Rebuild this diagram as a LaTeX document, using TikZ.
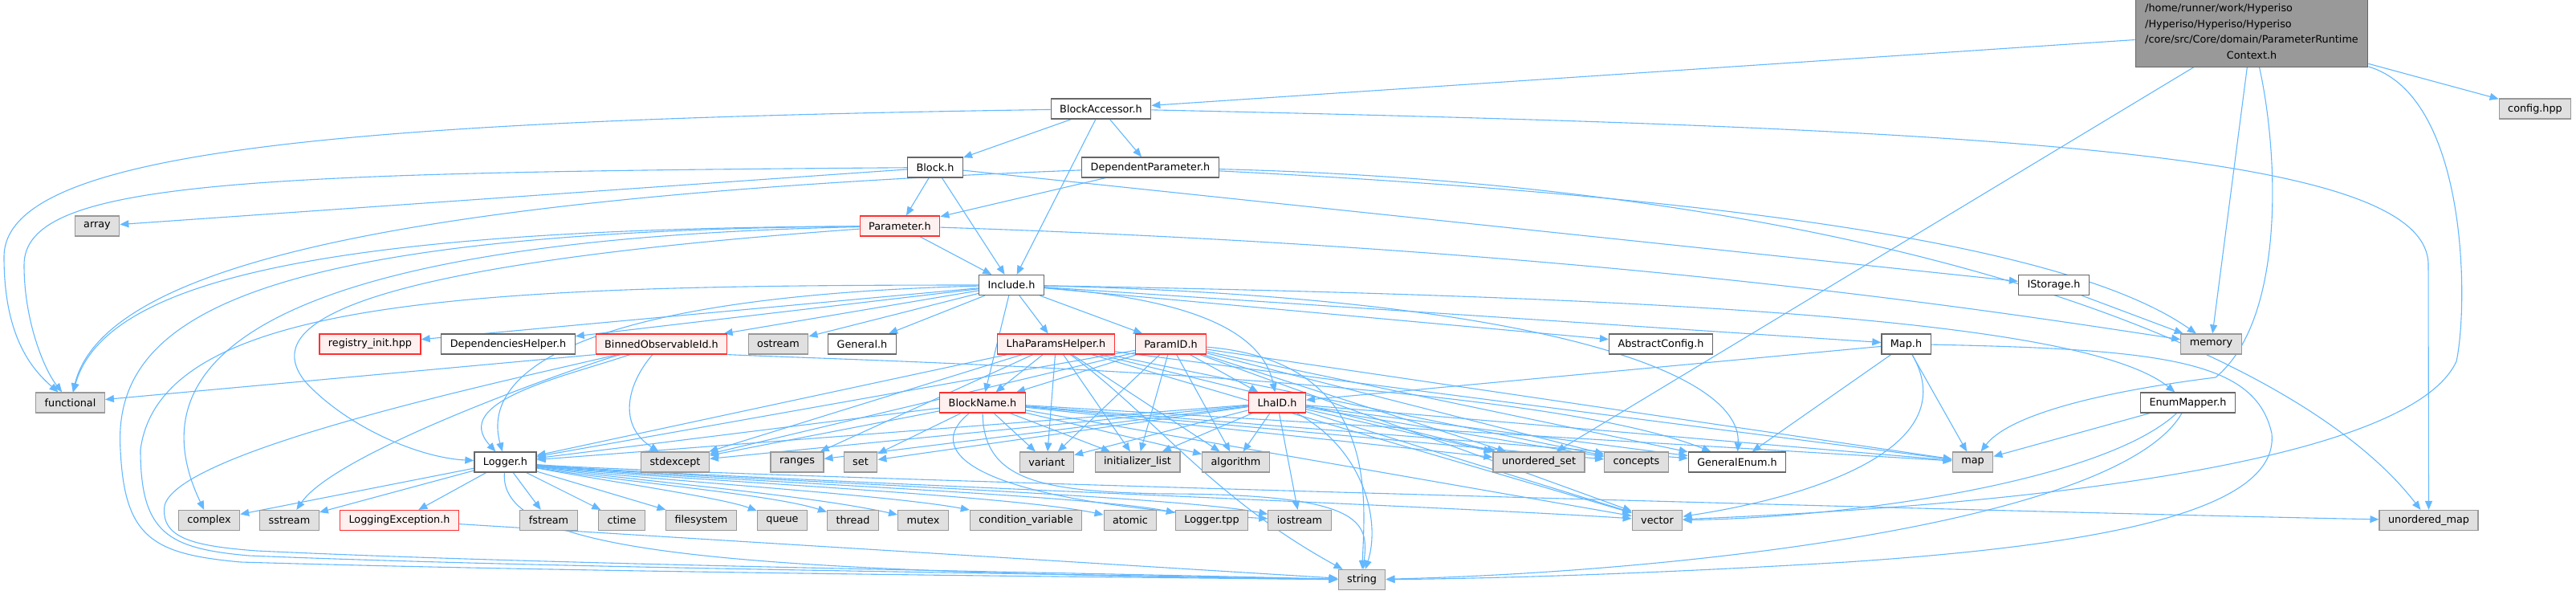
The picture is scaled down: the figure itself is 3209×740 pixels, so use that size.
\documentclass[tikz,border=0pt]{standalone}
\usepackage{fontspec}
\setmainfont{DejaVu Sans}
\usepackage{tikz}
\usetikzlibrary{arrows.meta}

\definecolor{edgeblue}{HTML}{63B8FF}
\definecolor{filedraw}{HTML}{666666}
\definecolor{rootfill}{HTML}{999999}
\definecolor{sysfill}{HTML}{E0E0E0}
\definecolor{sysdraw}{HTML}{999999}
\definecolor{truncfill}{HTML}{FFF0F0}
\definecolor{truncdraw}{HTML}{FF3030}

\pgfdeclarelayer{background}
\pgfsetlayers{background,main}

\begin{document}
\begin{tikzpicture}[
    x=1pt, y=-1pt,
    every node/.style={font=\fontsize{12.8}{15.3}\selectfont},
    file/.style={rectangle, draw=filedraw, fill=white, line width=1.2pt, minimum height=25pt, inner xsep=11pt, inner ysep=0pt},
    sysfile/.style={file, draw=sysdraw, fill=sysfill},
    truncfile/.style={file, draw=truncdraw, fill=truncfill},
    mainfile/.style={file, fill=rootfill, inner xsep=12pt, inner ysep=4pt},
    dep/.style={-{Triangle[length=11pt, width=9pt]}, draw=edgeblue, line width=1.1pt}
]
\useasboundingbox (0,0) rectangle (3209,740);

% Top: the documented file
\node[mainfile] (ctx) at (2805,40) {\def\arraystretch{1.28}\begin{tabular}{@{}l@{}}/home/runner/work/Hyperiso\\/Hyperiso/Hyperiso/Hyperiso\\/core/src/Core/domain/ParameterRuntime\\\multicolumn{1}{@{}c@{}}{Context.h}\end{tabular}};
\node[sysfile] (config) at (3158,135.5) {config.hpp};

% Project headers
\node[file] (blockacc) at (1371.5,135.5) {BlockAccessor.h};
\node[file] (block) at (1165,208.5) {Block.h};
\node[file] (deppar) at (1433,208.5) {DependentParameter.h};
\node[truncfile] (param) at (1121,281.5) {Parameter.h};
\node[file] (istorage) at (2558.5,355) {IStorage.h};
\node[file] (include) at (1260,355) {Include.h};
\node[truncfile] (registry) at (461,428.5) {registry\_init.hpp};
\node[file] (depshelper) at (633,428.5) {DependenciesHelper.h};
\node[truncfile] (binnedid) at (824,428.5) {BinnedObservableId.h};
\node[file] (general) at (1074,428.5) {General.h};
\node[truncfile] (lhahelper) at (1315.5,428.5) {LhaParamsHelper.h};
\node[truncfile] (paramid) at (1458.5,428.5) {ParamID.h};
\node[file] (absconfig) at (2069,428.5) {AbstractConfig.h};
\node[file] (maph) at (2374.5,428.5) {Map.h};
\node[truncfile] (blockname) at (1224,501.5) {BlockName.h};
\node[truncfile] (lhaid) at (1591,501.5) {LhaID.h};
\node[file] (enummap) at (2725.5,501.5) {EnumMapper.h};
\node[file] (logger) at (629.5,575.5) {Logger.h};
\node[file] (genenum) at (2164,575.5) {GeneralEnum.h};
\node[truncfile] (logexc) at (497.5,648) {LoggingException.h};

% System headers
\node[sysfile] (array) at (121,281.5) {array};
\node[sysfile] (functional) at (87.5,501.5) {functional};
\node[sysfile] (ostream) at (969.5,428.5) {ostream};
\node[sysfile] (memory) at (2754.5,428.5) {memory};
\node[sysfile] (stdexcept) at (841,575.5) {stdexcept};
\node[sysfile] (ranges) at (993,575.5) {ranges};
\node[sysfile] (set) at (1072,575.5) {set};
\node[sysfile] (variant) at (1304,575.5) {variant};
\node[sysfile] (initlist) at (1417,575.5) {initializer\_list};
\node[sysfile] (algorithm) at (1539.5,575.5) {algorithm};
\node[sysfile] (uset) at (1917,575.5) {unordered\_set};
\node[sysfile] (concepts) at (2038.5,575.5) {concepts};
\node[sysfile] (map) at (2457.5,575.5) {map};
\node[sysfile] (complex) at (260.5,648) {complex};
\node[sysfile] (sstream) at (360.5,648) {sstream};
\node[sysfile] (fstream) at (683.5,648) {fstream};
\node[sysfile] (ctime) at (774.5,648) {ctime};
\node[sysfile] (filesystem) at (873.5,648) {filesystem};
\node[sysfile] (queue) at (974.5,648) {queue};
\node[sysfile] (thread) at (1062.5,648) {thread};
\node[sysfile] (mutex) at (1150,648) {mutex};
\node[sysfile] (condvar) at (1278,648) {condition\_variable};
\node[sysfile] (atomic) at (1408,648) {atomic};
\node[sysfile] (loggertpp) at (1509.5,648) {Logger.tpp};
\node[sysfile] (iostream) at (1619,648) {iostream};
\node[sysfile] (vector) at (2064.5,648) {vector};
\node[sysfile] (umap) at (3025.5,648) {unordered\_map};
\node[sysfile] (string) at (1696.5,722) {string};

\begin{pgfonlayer}{background}
% ParameterRuntimeContext.h
\draw[dep] (ctx) -- (blockacc);
\draw[dep] (ctx) -- (config);
\draw[dep] (ctx) -- (memory);
\draw[dep] (ctx) -- (uset);
\draw[dep] (ctx) .. controls (2840,200) and (2845,400) .. (2760,470) .. controls (2600,490) and (2500,520) .. (map);
\draw[dep] (ctx) .. controls (3075,120) and (3075,380) .. (3060,450) .. controls (3000,580) and (2500,630) .. (vector);

% BlockAccessor.h
\draw[dep] (blockacc) -- (block);
\draw[dep] (blockacc) -- (deppar);
\draw[dep] (blockacc) -- (include);
\draw[dep] (blockacc) .. controls (400,150) and (5,190) .. (5,320) .. controls (5,420) and (40,460) .. (functional);
\draw[dep] (blockacc) .. controls (2500,160) and (3025,190) .. (3025,330) -- (umap);

% Block.h
\draw[dep] (block) -- (param);
\draw[dep] (block) -- (include);
\draw[dep] (block) -- (istorage);
\draw[dep] (block) -- (array);
\draw[dep] (block) .. controls (300,215) and (30,225) .. (30,330) .. controls (30,400) and (55,460) .. (functional);

% DependentParameter.h
\draw[dep] (deppar) -- (param);
\draw[dep] (deppar) .. controls (500,245) and (130,330) .. (functional);
\draw[dep] (deppar) .. controls (2250,250) and (2600,320) .. (memory);
\draw[dep] (deppar) .. controls (2300,230) and (2850,420) .. (umap);

% Parameter.h
\draw[dep] (param) -- (include);
\draw[dep] (param) .. controls (400,285) and (130,350) .. (functional);
\draw[dep] (param) .. controls (250,300) and (180,480) .. (complex);
\draw[dep] (param) .. controls (450,330) and (320,400) .. (380,475) .. controls (430,530) and (520,570) .. (logger);
\draw[dep] (param) .. controls (2000,310) and (2500,390) .. (memory);
\draw[dep] (param) .. controls (300,288) and (140,400) .. (150,560) .. controls (155,670) and (190,690) .. (300,700) .. controls (700,712) and (1300,718) .. (string);

% IStorage.h
\draw[dep] (istorage) -- (memory);

% Include.h
\draw[dep] (include) -- (registry);
\draw[dep] (include) -- (depshelper);
\draw[dep] (include) -- (binnedid);
\draw[dep] (include) -- (ostream);
\draw[dep] (include) -- (general);
\draw[dep] (include) .. controls (700,370) and (600,470) .. (logger);
\draw[dep] (include) .. controls (600,355) and (200,370) .. (175,560) .. controls (175,665) and (210,683) .. (310,692) .. controls (700,708) and (1300,714) .. (string);
\draw[dep] (include) -- (lhahelper);
\draw[dep] (include) -- (paramid);
\draw[dep] (include) -- (blockname);
\draw[dep] (include) .. controls (1450,370) and (1570,400) .. (lhaid);
\draw[dep] (include) -- (absconfig);
\draw[dep] (include) -- (maph);
\draw[dep] (include) .. controls (2100,370) and (2600,400) .. (enummap);
\draw[dep] (include) .. controls (1900,370) and (2170,460) .. (genenum);

% LhaParamsHelper.h
\draw[dep] (lhahelper) -- (blockname);
\draw[dep] (lhahelper) -- (logger);
\draw[dep] (lhahelper) -- (stdexcept);
\draw[dep] (lhahelper) -- (ranges);
\draw[dep] (lhahelper) -- (variant);
\draw[dep] (lhahelper) -- (initlist);
\draw[dep] (lhahelper) -- (algorithm);
\draw[dep] (lhahelper) -- (uset);
\draw[dep] (lhahelper) -- (concepts);
\draw[dep] (lhahelper) -- (map);
\draw[dep] (lhahelper) -- (vector);
\draw[dep] (lhahelper) .. controls (1440,520) and (1510,620) .. (string);

% ParamID.h
\draw[dep] (paramid) -- (blockname);
\draw[dep] (paramid) -- (lhaid);
\draw[dep] (paramid) -- (logger);
\draw[dep] (paramid) -- (stdexcept);
\draw[dep] (paramid) -- (variant);
\draw[dep] (paramid) -- (initlist);
\draw[dep] (paramid) -- (algorithm);
\draw[dep] (paramid) -- (uset);
\draw[dep] (paramid) -- (concepts);
\draw[dep] (paramid) -- (genenum);
\draw[dep] (paramid) -- (map);
\draw[dep] (paramid) -- (vector);
\draw[dep] (paramid) .. controls (1720,450) and (1700,620) .. (string);

% BlockName.h
\draw[dep] (blockname) -- (logger);
\draw[dep] (blockname) -- (stdexcept);
\draw[dep] (blockname) -- (set);
\draw[dep] (blockname) -- (variant);
\draw[dep] (blockname) -- (initlist);
\draw[dep] (blockname) -- (algorithm);
\draw[dep] (blockname) -- (uset);
\draw[dep] (blockname) -- (concepts);
\draw[dep] (blockname) -- (genenum);
\draw[dep] (blockname) -- (map);
\draw[dep] (blockname) -- (vector);
\draw[dep] (blockname) .. controls (1150,560) and (1200,625) .. (iostream);
\draw[dep] (blockname) .. controls (1225,600) and (1300,612) .. (1450,615) .. controls (1700,615) and (1705,650) .. (string);

% LhaID.h
\draw[dep] (lhaid) -- (logger);
\draw[dep] (lhaid) -- (stdexcept);
\draw[dep] (lhaid) -- (ranges);
\draw[dep] (lhaid) -- (set);
\draw[dep] (lhaid) -- (variant);
\draw[dep] (lhaid) -- (initlist);
\draw[dep] (lhaid) -- (algorithm);
\draw[dep] (lhaid) -- (uset);
\draw[dep] (lhaid) -- (concepts);
\draw[dep] (lhaid) -- (genenum);
\draw[dep] (lhaid) -- (map);
\draw[dep] (lhaid) -- (vector);
\draw[dep] (lhaid) -- (iostream);
\draw[dep] (lhaid) .. controls (1700,560) and (1720,650) .. (string);

% Map.h
\draw[dep] (maph) -- (lhaid);
\draw[dep] (maph) -- (genenum);
\draw[dep] (maph) -- (map);
\draw[dep] (maph) .. controls (2450,560) and (2250,620) .. (vector);
\draw[dep] (maph) .. controls (2700,435) and (2810,450) .. (2830,540) .. controls (2840,640) and (2600,680) .. (2300,700) .. controls (2100,712) and (1900,720) .. (string);

% EnumMapper.h
\draw[dep] (enummap) -- (map);
\draw[dep] (enummap) .. controls (2620,600) and (2300,645) .. (vector);
\draw[dep] (enummap) .. controls (2640,650) and (2100,712) .. (string);

% BinnedObservableId.h
\draw[dep] (binnedid.south west) -- (functional);
\draw[dep] (binnedid) .. controls (700,470) and (560,500) .. (logger);
\draw[dep] (binnedid) .. controls (740,450) and (420,560) .. (sstream);
\draw[dep] (binnedid) .. controls (780,480) and (770,530) .. (stdexcept);
\draw[dep] (binnedid) .. controls (650,470) and (220,560) .. (205,630) .. controls (200,670) and (240,680) .. (320,686) .. controls (700,704) and (1300,712) .. (string);
\draw[dep] (binnedid.south east) .. controls (1100,450) and (1900,470) .. (genenum);

% Logger.h
\draw[dep] (logger) -- (complex);
\draw[dep] (logger) -- (sstream);
\draw[dep] (logger) -- (logexc);
\draw[dep] (logger) -- (fstream);
\draw[dep] (logger) -- (ctime);
\draw[dep] (logger) -- (filesystem);
\draw[dep] (logger) .. controls (760,600) and (900,620) .. (queue);
\draw[dep] (logger) .. controls (770,600) and (960,615) .. (thread);
\draw[dep] (logger) .. controls (780,598) and (1000,615) .. (mutex);
\draw[dep] (logger) .. controls (790,597) and (1100,615) .. (condvar);
\draw[dep] (logger) .. controls (800,596) and (1250,615) .. (atomic);
\draw[dep] (logger) .. controls (810,595) and (1350,615) .. (loggertpp);
\draw[dep] (logger) .. controls (820,594) and (1450,615) .. (iostream);
\draw[dep] (logger) .. controls (830,593) and (1800,630) .. (vector);
\draw[dep] (logger) .. controls (840,592) and (2600,640) .. (umap);
\draw[dep] (logger) .. controls (620,690) and (900,712) .. (string);

% LoggingException.h
\draw[dep] (logexc) -- (string);
\end{pgfonlayer}

\end{tikzpicture}
\end{document}
